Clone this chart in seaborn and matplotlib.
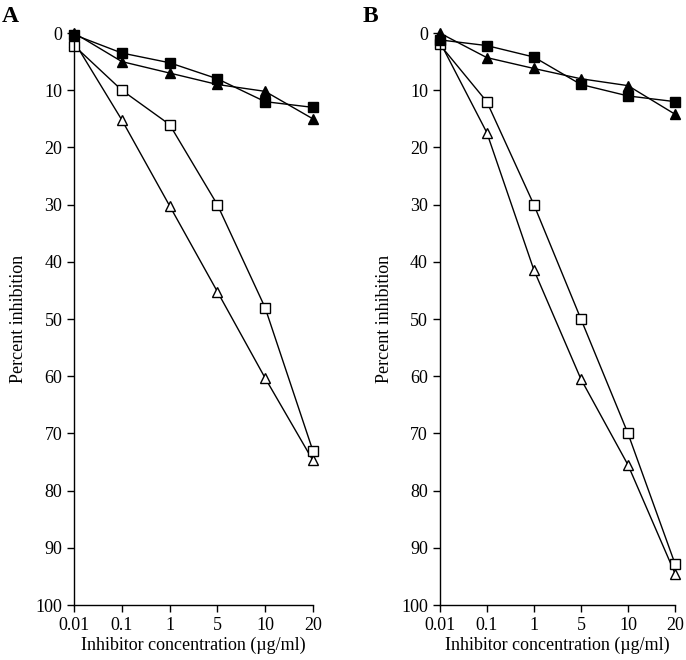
import numpy as np
import pandas as pd
import matplotlib
matplotlib.use("Agg")
import matplotlib.pyplot as plt
import seaborn as sns

sns.set_style("ticks")
plt.rcParams['font.family'] = ['Liberation Serif', 'DejaVu Serif']
plt.rcParams['text.color'] = 'black'
plt.rcParams['axes.labelcolor'] = 'black'

# x categories (equally spaced on the axis)
concentrations = ["0.01", "0.1", "1", "5", "10", "20"]

# Panel A values (percent inhibition)
a_filled_square = [0.3, 3.5, 5.2, 8.0, 12.0, 13.0]
a_filled_triangle = [0.0, 5.0, 7.0, 9.0, 10.2, 15.0]
a_open_square = [2.2, 10.0, 16.0, 30.0, 48.0, 73.0]
a_open_triangle = [1.5, 15.2, 30.2, 45.2, 60.3, 74.7]

# Panel B values
b_filled_square = [1.2, 2.2, 4.2, 9.0, 11.0, 12.0]
b_filled_triangle = [0.0, 4.3, 6.2, 8.0, 9.2, 14.2]
b_open_square = [2.0, 12.0, 30.0, 50.0, 70.0, 92.8]
b_open_triangle = [1.5, 17.4, 41.4, 60.5, 75.5, 94.5]

panels = {
    "A": [a_open_triangle, a_open_square, a_filled_triangle, a_filled_square],
    "B": [b_open_triangle, b_open_square, b_filled_triangle, b_filled_square],
}
styles = [("^", "white"), ("s", "white"), ("^", "black"), ("s", "black")]

fig = plt.figure(figsize=(6.86, 6.6), dpi=100)
ax_a = fig.add_axes([0.108, 0.0833, 0.348, 0.8667])
ax_b = fig.add_axes([0.641, 0.0833, 0.343, 0.8667])

pos = np.arange(len(concentrations))

for (letter, series), ax, lx in zip(panels.items(), [ax_a, ax_b], [0.003, 0.528]):
    for vals, (mk, face) in zip(series, styles):
        df = pd.DataFrame({"x": pos, "y": vals})
        sns.lineplot(data=df, x="x", y="y", ax=ax, color="black", lw=1,
                     marker=mk, markersize=7 if mk == "s" else 7.5,
                     markerfacecolor=face, markeredgecolor="black",
                     markeredgewidth=1, clip_on=False)
    ax.set_xlim(0, len(concentrations) - 1)
    ax.set_ylim(100, 0)
    ax.set_xticks(pos)
    ax.set_xticklabels(concentrations)
    ax.set_yticks(np.arange(0, 101, 10))
    ax.tick_params(direction="out", length=5, width=1, labelsize=13,
                   colors="black", labelcolor="black")
    ax.set_xlabel("Inhibitor concentration (\u00b5g/ml)", fontsize=13, labelpad=2)
    ax.set_ylabel("Percent inhibition", fontsize=13, labelpad=6)
    sns.despine(ax=ax)
    for s in ["left", "bottom"]:
        ax.spines[s].set_linewidth(1)
        ax.spines[s].set_color("black")
    fig.text(lx, 0.975, letter, fontsize=17, fontweight="bold", va="center", ha="left")

fig.savefig("out.png", dpi=100)
